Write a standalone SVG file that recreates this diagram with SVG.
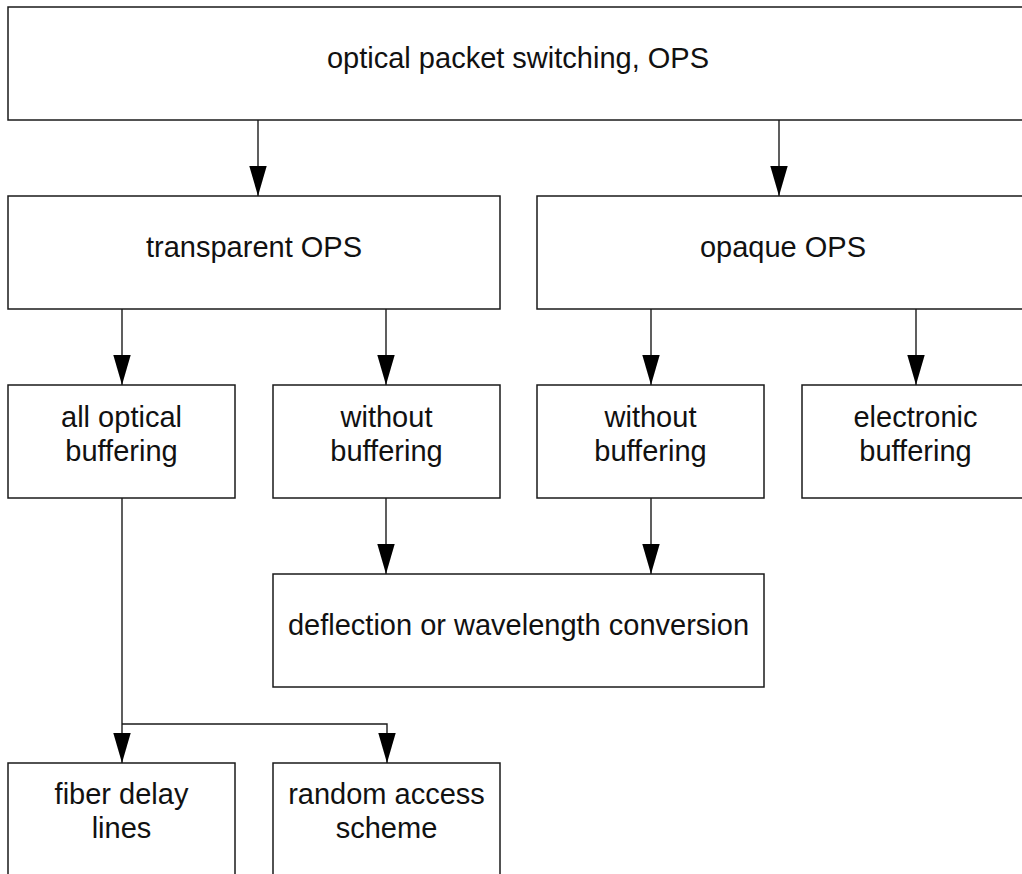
<svg xmlns="http://www.w3.org/2000/svg" width="1022" height="874" viewBox="0 0 1022 874">
  <defs>
    <style>
      .box { fill: #ffffff; stroke: #1a1a1a; stroke-width: 1.5; }
      .lbl { font-family: "Liberation Sans", Arial, sans-serif; font-size: 29px; fill: #111111; text-anchor: middle; }
      .wire { fill: none; stroke: #1a1a1a; stroke-width: 1.4; }
    </style>
    <marker id="head" markerUnits="userSpaceOnUse" markerWidth="31" markerHeight="18" refX="30" refY="8.7" orient="auto">
      <path d="M0,0 L30,8.7 L0,17.4 Z" fill="#000000"/>
    </marker>
  </defs>
  <rect width="1022" height="874" fill="#ffffff"/>

  <!-- level 1 -->
  <g id="ops">
    <rect class="box" x="8" y="7" width="1021" height="113"/>
    <text class="lbl" x="518" y="68">optical packet switching, OPS</text>
  </g>

  <!-- level 2 -->
  <g id="transparent">
    <rect class="box" x="8" y="196" width="492" height="113"/>
    <text class="lbl" x="254" y="257">transparent OPS</text>
  </g>
  <g id="opaque">
    <rect class="box" x="537" y="196" width="492" height="113"/>
    <text class="lbl" x="783" y="257">opaque OPS</text>
  </g>

  <!-- level 3 -->
  <g id="all-optical">
    <rect class="box" x="8" y="385" width="227" height="113"/>
    <text class="lbl" x="121.5" y="427">all optical</text>
    <text class="lbl" x="121.5" y="461">buffering</text>
  </g>
  <g id="without-t">
    <rect class="box" x="273" y="385" width="227" height="113"/>
    <text class="lbl" x="386.5" y="427">without</text>
    <text class="lbl" x="386.5" y="461">buffering</text>
  </g>
  <g id="without-o">
    <rect class="box" x="537" y="385" width="227" height="113"/>
    <text class="lbl" x="650.5" y="427">without</text>
    <text class="lbl" x="650.5" y="461">buffering</text>
  </g>
  <g id="electronic">
    <rect class="box" x="802" y="385" width="227" height="113"/>
    <text class="lbl" x="915.5" y="427">electronic</text>
    <text class="lbl" x="915.5" y="461">buffering</text>
  </g>

  <!-- level 4 -->
  <g id="deflection">
    <rect class="box" x="273" y="574" width="491" height="113"/>
    <text class="lbl" x="518.5" y="635">deflection or wavelength conversion</text>
  </g>

  <!-- level 5 -->
  <g id="fdl">
    <rect class="box" x="8" y="763" width="227" height="113"/>
    <text class="lbl" x="121.5" y="804">fiber delay</text>
    <text class="lbl" x="121.5" y="838">lines</text>
  </g>
  <g id="random-access">
    <rect class="box" x="273" y="763" width="227" height="113"/>
    <text class="lbl" x="386.5" y="804">random access</text>
    <text class="lbl" x="386.5" y="838">scheme</text>
  </g>

  <!-- connectors -->
  <g id="connectors">
    <path class="wire" d="M258,120 V196" marker-end="url(#head)"/>
    <path class="wire" d="M779,120 V196" marker-end="url(#head)"/>
    <path class="wire" d="M122,309 V385" marker-end="url(#head)"/>
    <path class="wire" d="M386,309 V385" marker-end="url(#head)"/>
    <path class="wire" d="M651,309 V385" marker-end="url(#head)"/>
    <path class="wire" d="M916,309 V385" marker-end="url(#head)"/>
    <path class="wire" d="M386,498 V574" marker-end="url(#head)"/>
    <path class="wire" d="M651,498 V574" marker-end="url(#head)"/>
    <path class="wire" d="M122,498 V763" marker-end="url(#head)"/>
    <path class="wire" d="M122,724 H387 V763" marker-end="url(#head)"/>
  </g>
</svg>
